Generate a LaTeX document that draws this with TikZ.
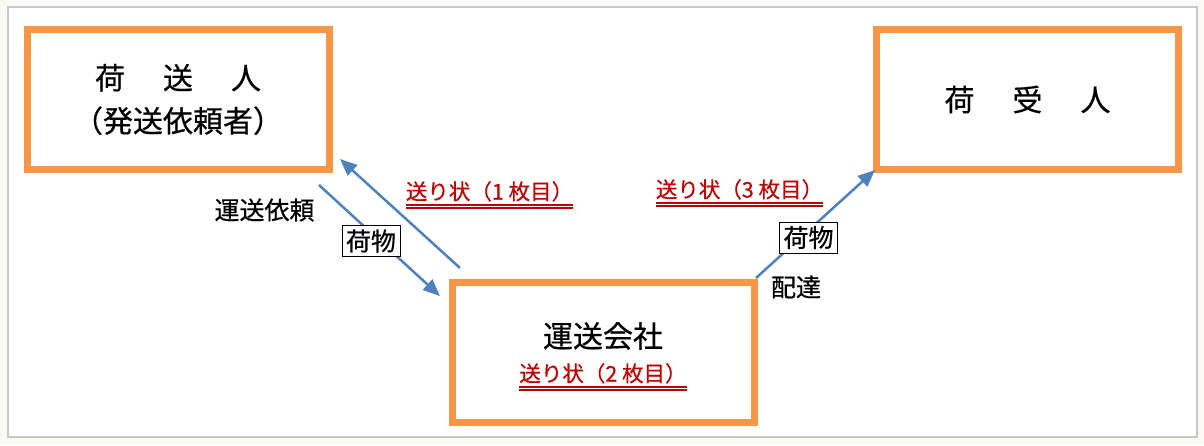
\documentclass[tikz,border=0pt]{standalone}
\usepackage{fontspec}
\setmainfont{Noto Sans CJK JP}[FakeBold=0.5]
\usetikzlibrary{arrows.meta}
\definecolor{bgout}{HTML}{FAF9F4}
\definecolor{framegray}{HTML}{C6C6C6}
\definecolor{boxorange}{HTML}{F79646}
\definecolor{arrowblue}{HTML}{4F81BD}
\definecolor{slipred}{HTML}{C00000}
\newcommand\slipline[1]{\setbox0\hbox{#1}\rlap{\rule[-6.3pt]{\wd0}{1.6pt}}\rlap{\rule[-9.1pt]{\wd0}{1.6pt}}\box0}
\begin{document}
\begin{tikzpicture}[x=1pt,y=-1pt,
  party/.style={draw=boxorange, line width=7pt, fill=white, minimum width=302pt, minimum height=140pt, inner sep=0pt, align=center},
  titletext/.style={font=\fontsize{30pt}{43pt}\selectfont, align=center},
  labeltext/.style={font=\fontsize{25pt}{30pt}\selectfont, inner sep=0pt},
  cargobox/.style={draw=black, line width=1pt, fill=white, minimum width=58pt, minimum height=31pt, inner sep=0pt, font=\fontsize{25pt}{30pt}\selectfont},
  sliptext/.style={font=\fontsize{21.5pt}{25pt}\selectfont, text=slipred, inner sep=0pt, anchor=base},
  flow/.style={draw=arrowblue, line width=2.5pt, -{Triangle[length=17pt,width=14pt]}}
]
\fill[bgout] (0,0) rectangle (1204,445);
\draw[framegray, line width=1.2pt, fill=white] (8,7) rectangle (1197,437);

\node[party, titletext] (shipper) at (178,99.5) {荷\hspace{38pt}送\hspace{38pt}人\\（発送依頼者）};
\node[party, titletext] (consignee) at (1027.5,99.5) {荷\hspace{38pt}受\hspace{38pt}人};
\node[party] (carrier) at (603,352.5) {};
\node[titletext, inner sep=0pt] (carriername) at (603,336) {運送会社};
\node[sliptext] (slip2) at (603,381.5) {\slipline{送り状（2 枚目）}};

\coordinate (a1s) at (319,185);
\coordinate (a1e) at (440,296);
\coordinate (a2s) at (460,268);
\coordinate (a2e) at (340,159);
\coordinate (a3s) at (756,278);
\coordinate (a3e) at (875,170);

\draw[flow] (a1s) -- (a1e);
\draw[flow] (a2s) -- (a2e);
\draw[flow] (a3s) -- (a3e);

\node[labeltext] (request) at (264.5,210) {運送依頼};
\node[cargobox] (cargo1) at (371,241) {荷物};
\node[cargobox] (cargo2) at (808.5,237.5) {荷物};
\node[labeltext] (delivery) at (796,287) {配達};
\node[sliptext] (slip1) at (489.5,199.5) {\slipline{送り状（1 枚目）}};
\node[sliptext] (slip3) at (739.5,197.5) {\slipline{送り状（3 枚目）}};
\end{tikzpicture}
\end{document}
